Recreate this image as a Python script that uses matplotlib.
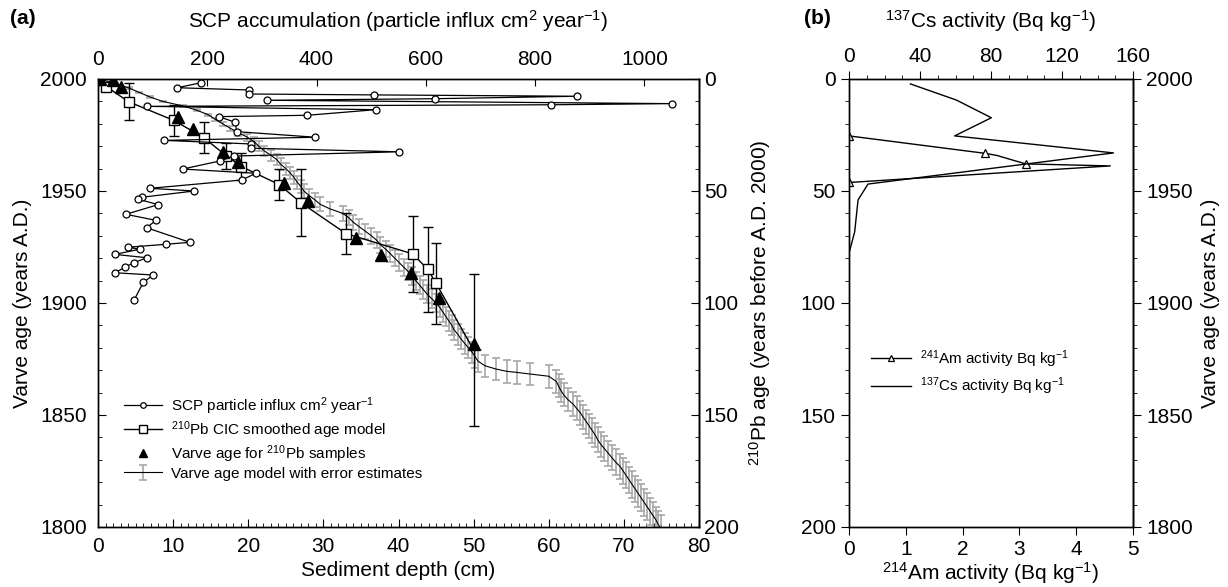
import matplotlib
matplotlib.use("Agg")
import matplotlib.pyplot as plt

plt.rcParams['font.family'] = ['Liberation Sans', 'DejaVu Sans']
plt.rcParams['mathtext.default'] = 'regular'
plt.rcParams['axes.linewidth'] = 1.0

# ---- panel (a) data ----
# SCP particle influx (top axis) against varve year
scp_year = [1998.3, 1996.1, 1995.1, 1993.3, 1992.9, 1992.3, 1991.2, 1990.5, 1989.0, 1988.5,
            1987.8, 1986.3, 1983.8, 1983.2, 1980.7, 1976.5, 1974.0, 1972.6, 1971.0, 1969.1,
            1967.5, 1965.6, 1963.4, 1959.8, 1957.9, 1954.9, 1951.2, 1950.0, 1947.2, 1946.4,
            1943.9, 1939.6, 1936.9, 1933.6, 1927.1, 1926.2, 1924.9, 1924.0, 1921.7, 1920.2,
            1918.0, 1915.9, 1913.5, 1912.5, 1909.2, 1901.3]
scp_val = [188, 145, 276, 276, 505, 877, 616, 309, 1051, 830,
           89, 508, 383, 221, 251, 254, 398, 121, 280, 280,
           551, 249, 223, 155, 289, 263, 95, 176, 80, 73,
           110, 51, 106, 89, 168, 124, 55, 76, 31, 90,
           65, 49, 31, 101, 83, 66]

# 210Pb CIC smoothed age model
pb_depth = [0, 1.1, 4.1, 10.1, 14.1, 17.1, 19.1, 24.1, 27.0, 33.0, 41.9, 43.9, 45.0, 50.0]
pb_year = [1999.5, 1996.6, 1989.8, 1981.5, 1973.8, 1965.6, 1960.9, 1952.9, 1944.8, 1931.0,
           1921.9, 1915.0, 1908.8, 1879.0]
pb_err = [0, 0, 8.2, 7.0, 6.8, 5.8, 6.0, 6.9, 15.0, 9.0, 17.0, 19.0, 18.0, 34.0]
pb_marked = list(range(13))

# varve age of the 210Pb samples
tri_depth = [0.3, 2.0, 3.0, 10.6, 12.6, 16.6, 18.6, 24.8, 28.0, 34.4, 37.7, 41.6, 45.4, 50.0]
tri_year = [2000.0, 1999.6, 1996.6, 1983.2, 1977.8, 1967.3, 1962.8, 1953.4, 1945.7, 1929.2,
            1921.4, 1913.5, 1902.4, 1881.6]

# varve age model with error estimates
varve_year = [2000, 1998, 1996, 1994, 1992, 1990, 1988, 1986, 1984, 1982,
              1980, 1978, 1976, 1974, 1972, 1970, 1968, 1966, 1964, 1962,
              1960, 1958, 1956, 1954, 1952, 1950, 1948, 1946, 1944, 1942,
              1940, 1938, 1936, 1934, 1932, 1930, 1928, 1926, 1924, 1922,
              1920, 1918, 1916, 1914, 1912, 1910, 1908, 1906, 1904, 1902,
              1900, 1898, 1896, 1894, 1892, 1890, 1888, 1886, 1884, 1882,
              1880, 1878, 1876, 1874, 1872, 1870.5, 1869.5, 1869, 1868.3, 1867.3,
              1865, 1863, 1861, 1859, 1857, 1855, 1853, 1851, 1849, 1847,
              1845, 1843, 1841, 1839, 1837, 1835, 1833, 1831, 1829, 1827,
              1825, 1823, 1821, 1819, 1817, 1815, 1813, 1811, 1809, 1807,
              1805, 1803, 1801, 1799]
varve_depth = [0.2, 2.3, 4.1, 5.5, 6.9, 8.6, 11.3, 13.2, 14.7, 15.6,
               16.6, 17.6, 18.7, 19.9, 20.8, 21.4, 22.1, 23.0, 23.8, 24.3,
               25.0, 25.6, 26.1, 26.5, 27.0, 27.4, 28.1, 28.9, 29.6, 30.9,
               32.6, 33.4, 34.0, 34.8, 35.6, 36.4, 37.1, 37.6, 38.3, 38.9,
               39.5, 40.1, 40.7, 41.3, 41.8, 42.3, 42.8, 43.3, 43.8, 44.4,
               45.0, 45.5, 45.9, 46.3, 46.7, 47.1, 47.4, 47.9, 48.3, 48.8,
               49.3, 49.8, 50.2, 50.6, 51.5, 53.0, 54.4, 55.8, 57.5, 60.0,
               61.0, 61.3, 61.6, 62.0, 62.5, 63.2, 63.7, 64.2, 64.6, 65.0,
               65.4, 65.8, 66.2, 66.5, 66.9, 67.4, 67.9, 68.4, 68.9, 69.5,
               69.9, 70.3, 70.7, 71.1, 71.5, 71.9, 72.3, 72.7, 73.1, 73.5,
               73.9, 74.3, 74.6, 75.0]
varve_err = [0.3, 0.3, 0.3, 0.3, 0.4, 0.4, 0.4, 0.5, 0.5, 0.6,
             0.8, 1.0, 1.3, 1.6, 1.9, 2.1, 2.3, 2.4, 2.5, 2.6,
             2.7, 2.8, 2.8, 2.9, 2.9, 3.0, 3.0, 3.1, 3.1, 3.2,
             3.2, 3.3, 3.3, 3.4, 3.4, 3.5, 3.5, 3.6, 3.6, 3.7,
             3.7, 3.8, 3.8, 3.9, 3.9, 4.0, 4.0, 4.1, 4.1, 4.2,
             4.2, 4.3, 4.3, 4.4, 4.4, 4.5, 4.5, 4.6, 4.6, 4.7,
             4.7, 4.8, 4.8, 4.9, 4.9, 5.0, 5.0, 5.0, 5.0, 5.1,
             5.1, 5.1, 5.2, 5.2, 5.2, 5.3, 5.3, 5.3, 5.4, 5.4,
             5.4, 5.5, 5.5, 5.5, 5.6, 5.6, 5.6, 5.7, 5.7, 5.7,
             5.8, 5.8, 5.8, 5.9, 5.9, 5.9, 6.0, 6.0, 6.0, 6.1,
             6.1, 6.1, 6.2, 6.2]

# ---- panel (b) data ----
cs_pos = [2.2, 9.4, 17.3, 25.4, 33.0, 46.9, 54.0, 68.2, 77.8]
cs_val = [34.6, 60.5, 80.2, 59.5, 149.0, 10.7, 5.1, 3.2, 0.0]
am_pos = [25.4, 33.2, 34.1, 37.9, 38.8, 46.2]
am_val = [0.0, 2.40, 2.60, 3.11, 4.60, 0.0]
am_marked = [0, 1, 3, 5]

fig = plt.figure(figsize=(12.28, 5.87), dpi=100)

# ================= panel (a) =================
ax = fig.add_axes([98/1228, 1 - 527/587, 601/1228, 448/587])
ax.set_xlim(0, 80)
ax.set_ylim(1800, 2000)

varve = ax.errorbar(varve_depth, varve_year, yerr=varve_err, fmt='-', color='black', lw=0.8,
                    ecolor='#a8a8a8', elinewidth=1.2, capsize=3, capthick=1.2, zorder=2)
ax.errorbar(pb_depth, pb_year, yerr=pb_err, fmt='none', ecolor='black', elinewidth=1.0,
            capsize=3.5, capthick=1.0, zorder=3)
pb_line, = ax.plot(pb_depth, pb_year, '-s', color='black', lw=1.0, ms=7, mfc='white',
                   mec='black', mew=1.0, markevery=pb_marked, zorder=4)
tri, = ax.plot(tri_depth, tri_year, '^', color='black', ms=8, ls='none', zorder=5)

ax.set_xticks(range(0, 81, 10))
ax.set_xticks(range(0, 81, 1), minor=True)
ax.set_yticks(range(1800, 2001, 50))
ax.set_yticks(range(1800, 2001, 10), minor=True)
ax.tick_params(which='both', direction='in', labelsize=15, top=False, right=False)
ax.tick_params(which='major', length=6)
ax.tick_params(which='minor', length=3)
ax.tick_params(axis='x', which='major', pad=7)
ax.tick_params(axis='y', which='major', pad=8)
ax.set_xlabel('Sediment depth (cm)', fontsize=15, labelpad=4)
ax.set_ylabel('Varve age (years A.D.)', fontsize=15, labelpad=6)

ax_top = ax.twiny()
ax_top.set_xlim(0, 1100)
scp_line, = ax_top.plot(scp_val, scp_year, '-o', color='black', lw=0.9, ms=5, mfc='white',
                        mec='black', mew=0.9)
ax_top.set_xticks(range(0, 1001, 200))
ax_top.tick_params(direction='in', length=5, labelsize=15, pad=7)
ax_top.set_xlabel('SCP accumulation (particle influx cm$^2$ year$^{-1}$)', fontsize=15,
                  labelpad=16)

ax_r = ax.secondary_yaxis('right', functions=(lambda y: 2000 - y, lambda a: 2000 - a))
ax_r.set_yticks(range(0, 201, 50))
ax_r.set_yticks(range(0, 201, 10), minor=True)
ax_r.tick_params(which='both', direction='in', labelsize=15)
ax_r.tick_params(which='major', length=6)
ax_r.tick_params(which='minor', length=3)
ax_r.set_ylabel('$^{210}$Pb age (years before A.D. 2000)', fontsize=15, labelpad=6)

ax.legend([scp_line, pb_line, tri, varve],
          ['SCP particle influx cm$^2$ year$^{-1}$', '$^{210}$Pb CIC smoothed age model',
           'Varve age for $^{210}$Pb samples', 'Varve age model with error estimates'],
          loc='upper left', bbox_to_anchor=(0.02, 0.325), frameon=False, fontsize=11,
          handlelength=2.5, handletextpad=0.6, labelspacing=0.15, markerscale=0.8)

# ================= panel (b) =================
bx = fig.add_axes([849/1228, 1 - 527/587, 284/1228, 448/587])
bx.set_xlim(0, 5)
bx.set_ylim(200, 0)
am_line, = bx.plot(am_val, am_pos, '-^', color='black', lw=1.0, ms=6, mfc='white', mec='black',
                   mew=0.9, markevery=am_marked)
bx.set_xticks(range(0, 6))
bx.set_yticks(range(0, 201, 50))
bx.set_yticks(range(0, 201, 10), minor=True)
bx.tick_params(which='both', direction='out', labelsize=15, top=False)
bx.tick_params(which='major', length=6)
bx.tick_params(which='minor', length=3)
bx.set_xlabel('$^{214}$Am activity (Bq kg$^{-1}$)', fontsize=15, labelpad=1)

bx_top = bx.twiny()
bx_top.set_xlim(0, 160)
cs_line, = bx_top.plot(cs_val, cs_pos, '-', color='black', lw=1.0)
bx_top.set_xticks(range(0, 161, 40))
bx_top.set_xticks(range(0, 161, 10), minor=True)
bx_top.tick_params(which='both', direction='out', labelsize=15)
bx_top.tick_params(which='major', length=6)
bx_top.tick_params(which='minor', length=3)
bx_top.set_xlabel('$^{137}$Cs activity (Bq kg$^{-1}$)', fontsize=15, labelpad=14)

bx_r = bx.secondary_yaxis('right', functions=(lambda y: 2000 - y, lambda a: 2000 - a))
bx_r.set_yticks(range(1800, 2001, 50))
bx_r.set_yticks(range(1800, 2001, 10), minor=True)
bx_r.tick_params(which='both', direction='out', labelsize=15)
bx_r.tick_params(which='major', length=6)
bx_r.tick_params(which='minor', length=3)
bx_r.set_ylabel('Varve age (years A.D.)', fontsize=15, labelpad=6)

bx.legend([am_line, cs_line],
          ['$^{241}$Am activity Bq kg$^{-1}$', '$^{137}$Cs activity Bq kg$^{-1}$'],
          loc='upper left', bbox_to_anchor=(0.03, 0.43), frameon=False, fontsize=11,
          handlelength=2.6, handletextpad=0.6, labelspacing=0.4, markerscale=0.8)

fig.text(0.008, 0.968, '(a)', fontsize=15, fontweight='bold', va='center')
fig.text(0.655, 0.968, '(b)', fontsize=15, fontweight='bold', va='center')

fig.savefig('out.png', dpi=100)
